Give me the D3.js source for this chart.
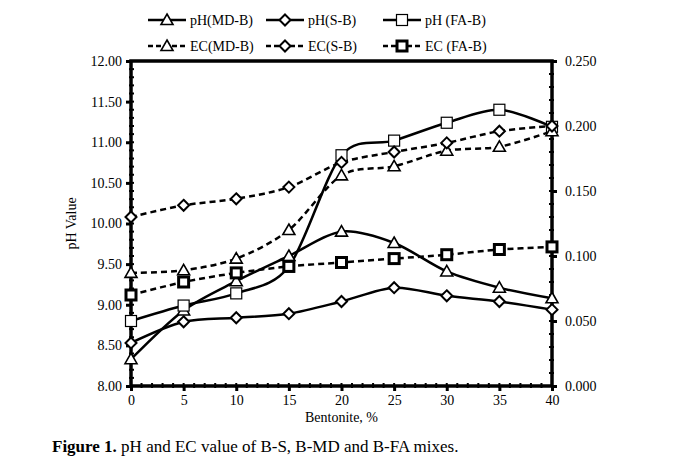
<!DOCTYPE html>
<html>
<head>
<meta charset="utf-8">
<script src="https://d3js.org/d3.v7.min.js"></script>
<style>
  body { margin: 0; background: #fff; }
  text { font-family: "Liberation Serif", "Times New Roman", serif; fill: #000; }
</style>
</head>
<body>
<svg id="svg" width="690" height="462"></svg>
<script>
// **** Data ****
const bentonite = [0, 5, 10, 15, 20, 25, 30, 35, 40]

const phMD = [8.33, 8.93, 9.29, 9.60, 9.90, 9.76, 9.41, 9.21, 9.08]
const phS  = [8.53, 8.79, 8.84, 8.89, 9.04, 9.21, 9.11, 9.04, 8.94]
const phFA = [8.80, 8.99, 9.14, 9.47, 10.84, 11.02, 11.24, 11.40, 11.19]

const ecMD = [0.087, 0.089, 0.098, 0.120, 0.162, 0.169, 0.181, 0.184, 0.196]
const ecS  = [0.130, 0.139, 0.144, 0.153, 0.172, 0.180, 0.187, 0.196, 0.200]
const ecFA = [0.070, 0.080, 0.087, 0.092, 0.095, 0.098, 0.101, 0.105, 0.107]

const leftTicks = [8, 8.5, 9, 9.5, 10, 10.5, 11, 11.5, 12]
const rightTicks = [0, 0.05, 0.1, 0.15, 0.2, 0.25]
const xTicks = [0, 5, 10, 15, 20, 25, 30, 35, 40]

const series = [
  { name: 'pH(MD-B)', values: phMD, axis: 'ph', marker: 'tri', dash: null },
  { name: 'pH(S-B)', values: phS, axis: 'ph', marker: 'dia', dash: null },
  { name: 'pH (FA-B)', values: phFA, axis: 'ph', marker: 'sq', dash: null },
  { name: 'EC(MD-B)', values: ecMD, axis: 'ec', marker: 'tri', dash: '6,4' },
  { name: 'EC(S-B)', values: ecS, axis: 'ec', marker: 'dia', dash: '6,4' },
  { name: 'EC (FA-B)', values: ecFA, axis: 'ec', marker: 'sqb', dash: '6,4' }
]

// **** Scales ****
const L = 131, R = 552, T = 61, B = 386
const x = d3.scaleLinear().domain([0, 40]).range([L, R])
const yPh = d3.scaleLinear().domain([8, 12]).range([B, T])
const yEc = d3.scaleLinear().domain([0, 0.25]).range([B, T])

const svg = d3.select('#svg')

// **** Helpers ****
function drawMarker(g, type, cx, cy) {
  if (type === 'tri') {
    const s = 6
    g.append('path')
      .attr('d', `M${cx},${cy - s}L${cx + s},${cy + s * 0.75}L${cx - s},${cy + s * 0.75}Z`)
      .attr('fill', '#fff').attr('stroke', '#000').attr('stroke-width', 1.6)
  } else if (type === 'dia') {
    const s = 5.5
    g.append('path')
      .attr('d', `M${cx},${cy - s}L${cx + s},${cy}L${cx},${cy + s}L${cx - s},${cy}Z`)
      .attr('fill', '#fff').attr('stroke', '#000').attr('stroke-width', 2)
  } else if (type === 'sq') {
    g.append('rect')
      .attr('x', cx - 5.5).attr('y', cy - 5.5).attr('width', 11).attr('height', 11)
      .attr('fill', '#fff').attr('stroke', '#000').attr('stroke-width', 1.2)
  } else {
    g.append('rect')
      .attr('x', cx - 5).attr('y', cy - 5).attr('width', 10).attr('height', 10)
      .attr('fill', '#fff').attr('stroke', '#000').attr('stroke-width', 3)
  }
}

// **** Axes ****
const leftAxis = d3.axisLeft(yPh).tickValues(leftTicks).tickFormat(d3.format('.2f')).tickSize(5).tickPadding(4)
const rightAxis = d3.axisRight(yEc).tickValues(rightTicks).tickFormat(d3.format('.3f')).tickSize(5).tickPadding(8)
const bottomAxis = d3.axisBottom(x).tickValues(xTicks).tickSize(5).tickPadding(4)

function styleAxis(g) {
  g.select('.domain').remove()
  g.selectAll('line').attr('stroke', '#000').attr('stroke-width', 3)
  g.selectAll('text').style('font-size', '14px').style('font-family', '"Liberation Serif", serif')
}

// minor ticks
const minorPh = d3.range(8, 12.001, 0.1)
svg.append('g').selectAll('line').data(minorPh).enter().append('line')
  .attr('x1', L - 2).attr('x2', L + 3)
  .attr('y1', d => yPh(d)).attr('y2', d => yPh(d))
  .attr('stroke', '#000').attr('stroke-width', 2)
const minorEc = d3.range(0, 0.2501, 0.01)
svg.append('g').selectAll('line').data(minorEc).enter().append('line')
  .attr('x1', R - 3).attr('x2', R + 2)
  .attr('y1', d => yEc(d)).attr('y2', d => yEc(d))
  .attr('stroke', '#000').attr('stroke-width', 2)
const minorX = d3.range(0, 41, 1)
svg.append('g').selectAll('line').data(minorX).enter().append('line')
  .attr('x1', d => x(d)).attr('x2', d => x(d))
  .attr('y1', B - 3).attr('y2', B + 2)
  .attr('stroke', '#000').attr('stroke-width', 2)

svg.append('g').attr('transform', `translate(${L},0)`).call(leftAxis).call(styleAxis)
svg.append('g').attr('transform', `translate(${R},0)`).call(rightAxis).call(styleAxis)
svg.append('g').attr('transform', `translate(0,${B})`).call(bottomAxis).call(styleAxis)

// frame
svg.append('rect')
  .attr('x', L).attr('y', T).attr('width', R - L).attr('height', B - T)
  .attr('fill', 'none').attr('stroke', '#000').attr('stroke-width', 3.5)

// **** Lines ****
const plot = svg.append('g')
series.forEach(s => {
  const y = s.axis === 'ph' ? yPh : yEc
  const line = d3.line()
    .x((d, i) => x(bentonite[i]))
    .y(d => y(d))
    .curve(d3.curveCardinal.tension(0.1))
  plot.append('path')
    .datum(s.values)
    .attr('d', line)
    .attr('fill', 'none')
    .attr('stroke', '#000')
    .attr('stroke-width', 2.5)
    .attr('stroke-dasharray', s.dash)
})
series.forEach(s => {
  const y = s.axis === 'ph' ? yPh : yEc
  s.values.forEach((v, i) => drawMarker(plot, s.marker, x(bentonite[i]), y(v)))
})

// **** Legend ****
const legX = [148, 266, 383]
const legY = [20, 46]
series.forEach((s, i) => {
  const lx = legX[i % 3], ly = legY[Math.floor(i / 3)]
  const g = svg.append('g')
  g.append('line')
    .attr('x1', lx).attr('x2', lx + 38).attr('y1', ly).attr('y2', ly)
    .attr('stroke', '#000').attr('stroke-width', 2.5)
    .attr('stroke-dasharray', s.dash ? '5,3' : null)
  drawMarker(g, s.marker, lx + 19, ly)
  g.append('text')
    .attr('x', lx + 42).attr('y', ly + 5)
    .style('font-size', '14px')
    .text(s.name)
})

// **** Titles ****
svg.append('text')
  .attr('transform', `translate(76,${(T + B) / 2}) rotate(-90)`)
  .attr('text-anchor', 'middle')
  .style('font-size', '14px')
  .text('pH Value')

svg.append('text')
  .attr('x', (L + R) / 2).attr('y', 422)
  .attr('text-anchor', 'middle')
  .style('font-size', '14px')
  .text('Bentonite, %')

const cap = svg.append('text').attr('x', 52).attr('y', 452).style('font-size', '17px')
cap.append('tspan').style('font-weight', 'bold').text('Figure 1.')
cap.append('tspan').text(' pH and EC value of B-S, B-MD and B-FA mixes.')
</script>
</body>
</html>
